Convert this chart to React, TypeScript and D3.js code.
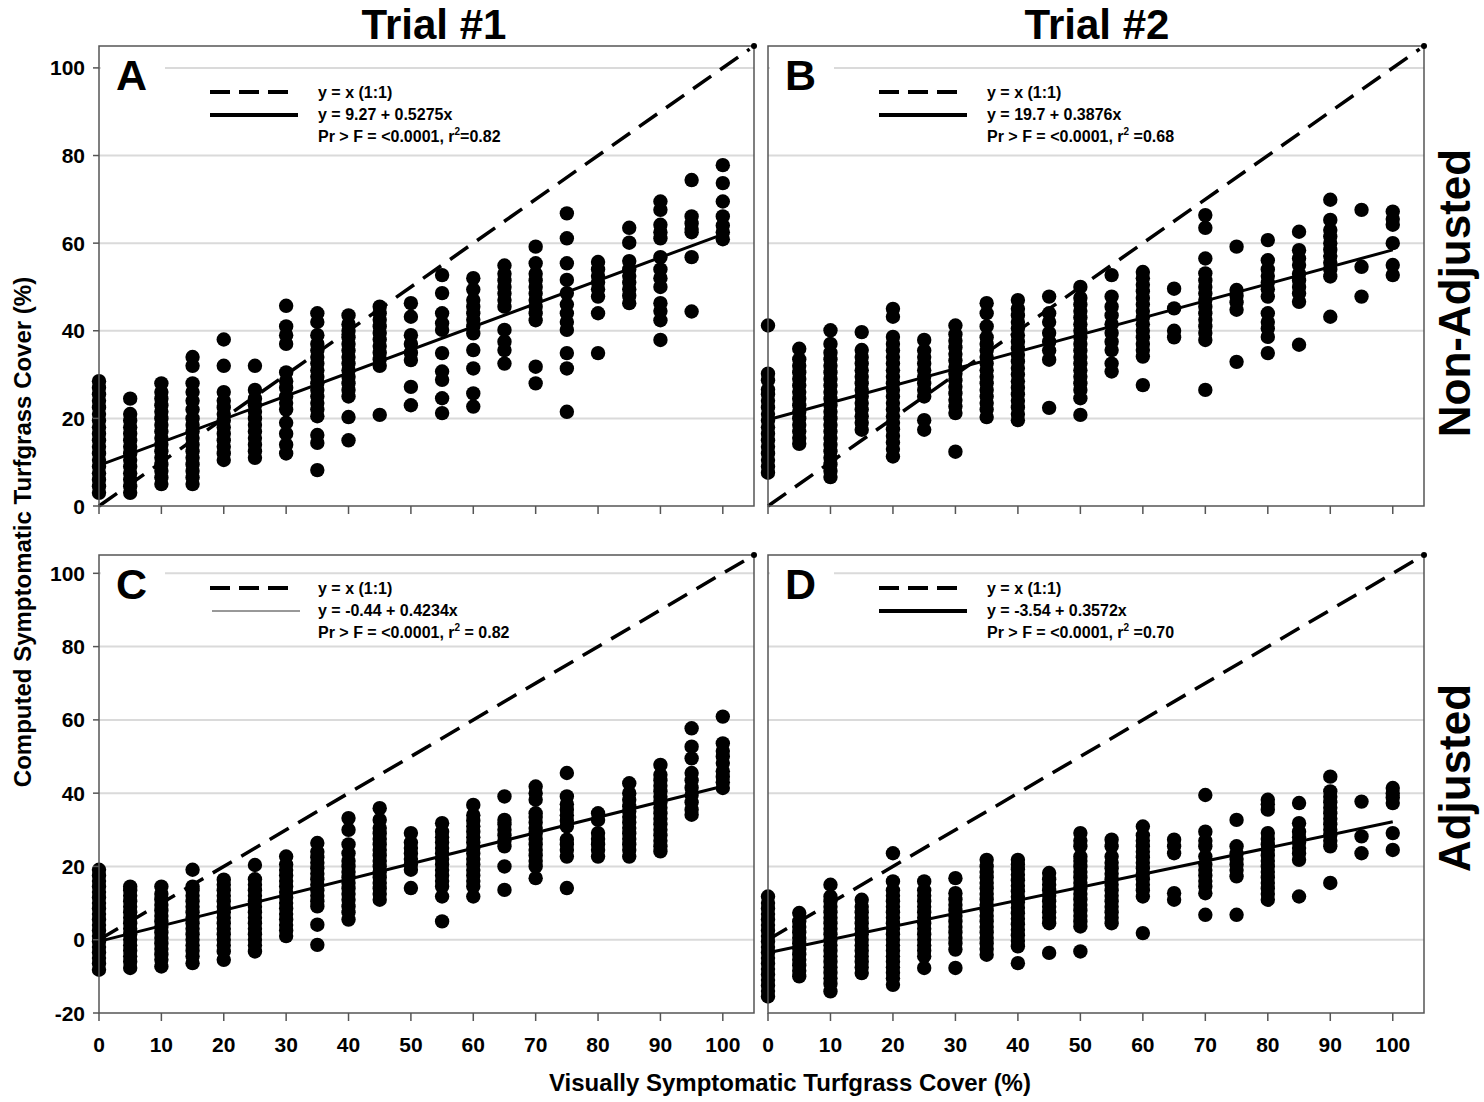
import React from 'react';
import * as d3 from 'd3';

type Column = [number, number[]];

const xTicks = [0, 10, 20, 30, 40, 50, 60, 70, 80, 90, 100];
const yTicksNonAdjusted = [0, 20, 40, 60, 80, 100];
const yTicksAdjusted = [-20, 0, 20, 40, 60, 80, 100];

// Trial #1, non-adjusted (panel A)
const trial1NonAdjusted: Column[] = [
  [0, [3, 4.5, 6, 7.5, 9, 10.5, 12, 13.5, 15, 16.5, 18, 19.5, 21, 22.5, 24, 25.5, 27, 28.5]],
  [5, [3, 4.5, 6, 7.5, 9, 10.5, 12, 13.5, 15, 16.5, 18, 19.5, 21, 24.5]],
  [10, [5, 6.5, 8, 9.5, 11, 12.5, 14, 15.5, 17, 18.5, 20, 21.5, 23, 24.5, 26, 28]],
  [15, [5, 6.5, 8, 9.5, 11, 12.5, 14, 15.5, 17, 18.5, 20, 22, 24, 26, 28, 32, 34]],
  [20, [10.5, 12, 13.5, 15, 16.5, 18, 19.5, 21, 22.5, 24, 26, 32, 38]],
  [25, [11, 12.5, 14, 15.5, 17, 18.5, 20, 21.5, 23, 24.5, 26.5, 32]],
  [30, [12, 14, 16.5, 19, 22, 23.5, 25, 27, 28.5, 30.5, 37, 39, 41, 45.7]],
  [35, [8.2, 14.4, 16.2, 20.5, 22, 23.5, 25, 26.5, 28, 29.5, 31, 32.5, 34, 35.5, 37, 39, 42, 44]],
  [40, [15, 20.3, 25, 26.5, 28, 29.5, 31, 32.5, 34, 35.5, 37, 38.5, 40, 41.5, 43.5]],
  [45, [20.8, 32, 33.5, 35, 36.5, 38, 39.5, 41, 42.5, 44, 45.5]],
  [50, [23, 27.2, 33.3, 35, 37, 39, 43.2, 46.3]],
  [55, [21.2, 24.6, 28.8, 30.7, 34.9, 40.2, 41.7, 44, 48.6, 52.7]],
  [60, [22.7, 25.7, 31.4, 35.6, 39.4, 41, 42.5, 44, 45.5, 47, 49.4, 52]],
  [65, [32.5, 35.6, 37.5, 40.2, 45.5, 47, 48.5, 50, 51.5, 53, 54.9]],
  [70, [28, 31.8, 42.4, 44, 45.5, 47, 48.5, 50, 51.5, 53, 55.4, 59.2]],
  [75, [21.5, 31.4, 34.9, 40.2, 42, 44, 46, 48.6, 51.6, 55.4, 61.1, 66.8]],
  [80, [34.9, 44, 47.8, 49.5, 51, 52.5, 54, 55.7]],
  [85, [46.3, 48, 49.5, 51, 52.5, 54, 55.9, 60.1, 63.5]],
  [90, [37.9, 42.4, 44.5, 46.3, 50, 52, 54, 56.8, 61.1, 62.5, 64.2, 67.6, 69.5]],
  [95, [44.4, 56.8, 62.5, 63.2, 64.5, 66.1, 74.4]],
  [100, [60.9, 62.5, 64, 66.1, 69.5, 73.7, 77.8]],
];

// Trial #2, non-adjusted (panel B)
const trial2NonAdjusted: Column[] = [
  [0, [7.6, 9, 10.5, 12, 13.5, 15, 16.5, 18, 19.5, 21, 22.5, 24, 25.5, 26.6, 28.7, 30.2, 41.2]],
  [5, [14.2, 15.5, 17, 18.5, 20, 21.5, 23, 24.5, 26, 27.5, 29, 30.5, 32, 33.5, 35.9]],
  [10, [6.6, 8, 9.5, 11, 12.5, 14, 15.5, 17, 18.5, 20, 21.5, 23, 24.5, 26, 27.5, 29, 30.5, 32, 33.5, 35, 37, 40.1]],
  [15, [17.4, 19, 20.5, 22, 23.5, 25, 26.5, 28, 29.5, 31, 32.5, 34, 35.6, 39.7]],
  [20, [11.3, 13, 14.5, 16, 17.5, 19, 20.5, 22, 23.5, 25, 26.5, 28, 29.5, 31, 32.5, 34, 35.5, 37, 38.6, 43.2, 45]],
  [25, [17.4, 19.6, 25, 26.5, 28, 29.5, 31, 32.5, 34, 35.5, 37.9]],
  [30, [12.4, 21.2, 22.7, 24.2, 25.7, 27.2, 28.7, 30.2, 31.7, 33.2, 34.7, 36.2, 37.7, 39.2, 41.2]],
  [35, [20.3, 22, 23.5, 25, 26.5, 28, 29.5, 31, 32.5, 34, 35.5, 37, 38.5, 41, 44, 46.3]],
  [40, [19.6, 21, 22.5, 24, 25.5, 27, 28.5, 30, 31.5, 33, 34.5, 36, 37.5, 39, 40.5, 42, 43.5, 45, 47]],
  [45, [22.4, 33.4, 35.5, 37.5, 39.5, 42, 44, 47.8]],
  [50, [20.8, 24.6, 26.5, 28, 29.5, 31, 32.5, 34, 35.5, 37, 38.5, 40, 41.5, 43, 44.5, 46, 47.5, 50]],
  [55, [30.7, 32.5, 35.6, 37.5, 39.5, 41.5, 43.5, 45.5, 47.8, 52.7]],
  [60, [27.6, 34.1, 35.6, 37, 38.5, 40, 41.5, 43, 44.5, 46, 47.5, 49, 50.5, 52, 53.4]],
  [65, [38.5, 40, 45.1, 49.6]],
  [70, [26.5, 37.9, 39.5, 41, 42.5, 44, 45.5, 47, 48.5, 50, 51.5, 53.1, 56.5, 63.5, 66.4]],
  [75, [32.9, 44.8, 46.5, 48, 49.3, 59.2]],
  [80, [34.9, 38.6, 40.5, 42, 44, 47.8, 49.5, 51, 52.5, 54, 56.1, 60.7]],
  [85, [36.8, 46.6, 48.5, 50, 51.5, 53, 55, 56.5, 58.4, 62.6]],
  [90, [43.2, 52.4, 54, 55.5, 57, 58.5, 60, 61.5, 63, 65.3, 69.9]],
  [95, [47.8, 54.6, 67.6]],
  [100, [52.7, 55, 60, 64.2, 65.5, 67.2]],
];

// Trial #1, adjusted (panel C)
const trial1Adjusted: Column[] = [
  [0, [-8.2, -6.5, -5, -3.5, -2, -0.5, 1, 2.5, 4, 5.5, 7, 8.5, 10, 11.5, 13, 14.5, 16, 17.5, 19.1]],
  [5, [-7.7, -6, -4.5, -3, -1.5, 0, 1.5, 3, 4.5, 6, 7.5, 9, 10.5, 12, 13.5, 14.5]],
  [10, [-7.3, -5.5, -4, -2.5, -1, 0.5, 2, 3.5, 5, 6.5, 8, 9.5, 11, 12.5, 14.5]],
  [15, [-6.4, -4.5, -3, -1.5, 0, 1.5, 3, 4.5, 6, 7.5, 9, 10.5, 12, 13.5, 14.5, 19.1]],
  [20, [-5.5, -3.2, -1.5, 0, 1.5, 3, 4.5, 6, 7.5, 9, 10.5, 12, 13.5, 15, 16.4]],
  [25, [-3.2, -1.5, 0, 1.5, 3, 4.5, 6, 7.5, 9, 10.5, 12, 13.5, 15, 16.5, 20.4]],
  [30, [1, 2.5, 4, 5.5, 7, 8.5, 10, 11.5, 13, 14.5, 16, 17.5, 19, 20.5, 22.7]],
  [35, [-1.4, 4.1, 9.1, 10.5, 12, 13.5, 15, 16.5, 18, 19.5, 21, 22.5, 24, 26.4]],
  [40, [5.5, 7.5, 9.1, 10.9, 12.5, 14, 15.5, 17, 18.5, 20, 21.5, 23.6, 26, 30, 33.2]],
  [45, [10.9, 12.5, 14, 15.5, 17, 18.5, 20, 21.5, 23, 24.5, 26, 27.5, 29, 30.5, 32.7, 35.9]],
  [50, [14.1, 19.1, 20.5, 22, 23.5, 25, 26.5, 29.1]],
  [55, [5, 11.8, 14.5, 16, 17.5, 19, 20.5, 22, 23.5, 25, 26.5, 28, 29.5, 31.8]],
  [60, [11.8, 14.5, 16, 17.5, 19, 20.5, 22, 23.5, 25, 26.5, 28, 29.5, 31, 32.5, 34, 36.8]],
  [65, [13.6, 20, 25.5, 27, 28.5, 30, 31.5, 32.7, 39.1]],
  [70, [16.8, 20, 21.5, 23, 24.5, 26, 27.5, 29, 30.5, 32, 33.5, 34.5, 38.2, 40, 41.8]],
  [75, [14.1, 22.7, 24.5, 26, 27.3, 30.9, 32.5, 34, 35.5, 37, 39.1, 45.5]],
  [80, [22.7, 24.5, 26, 27.5, 29.1, 32.7, 34.5]],
  [85, [22.7, 24.5, 26, 27.5, 29, 30.5, 32, 33.5, 35, 36.4, 38.2, 40, 42.7]],
  [90, [24.1, 25.5, 27, 28.5, 30, 31.5, 33, 34.5, 36, 37.5, 39, 40.5, 42, 43.5, 45, 47.7]],
  [95, [34.1, 35.5, 37.5, 39.5, 41.5, 43.5, 45.5, 49.5, 52.7, 57.7]],
  [100, [41.4, 43, 44.5, 46, 48.2, 50, 51.5, 53.6, 60.9]],
];

// Trial #2, adjusted (panel D)
const trial2Adjusted: Column[] = [
  [0, [-15.5, -14, -12.5, -11, -9.5, -8, -6.5, -5, -3.5, -2, -0.5, 1, 2.5, 4, 5.5, 7, 8.5, 10, 11.8]],
  [5, [-10, -8.5, -7, -5.5, -4, -2.5, -1, 0.5, 2, 3.5, 5, 7.3]],
  [10, [-14.1, -12, -10.5, -9, -7.5, -6, -4.5, -3, -1.5, 0, 1.5, 3, 4.5, 6, 7.5, 9, 10.5, 11.8, 15]],
  [15, [-9.1, -7.5, -6, -4.5, -3, -1.5, 0, 1.5, 3, 4.5, 6, 7.5, 9, 10.9]],
  [20, [-12.3, -10.5, -9, -7.5, -6, -4.5, -3, -1.5, 0, 1.5, 3, 4.5, 6, 7.5, 9, 10.5, 12, 13.5, 15.9, 23.6]],
  [25, [-7.7, -4.5, -3, -1.5, 0, 1.5, 3, 4.5, 6, 7.5, 9, 10.5, 12, 13.5, 15.9]],
  [30, [-7.7, -2.7, -1, 0.5, 2, 3.5, 5, 6.5, 8, 9.5, 11, 12.7, 16.8]],
  [35, [-4.1, -2.5, -1, 0.5, 2, 3.5, 5, 6.5, 8, 9.5, 11, 12.5, 14, 15.5, 17, 18.5, 20, 21.8]],
  [40, [-6.4, -1.8, -0.3, 1.2, 2.7, 4.2, 5.7, 7.2, 8.7, 10.2, 11.7, 13.2, 14.7, 16.2, 17.7, 19.2, 20.5, 21.8]],
  [45, [-3.6, 4.5, 6, 7.5, 9, 10.5, 12, 13.5, 15, 16.5, 18.2]],
  [50, [-3.2, 3.6, 5, 6.5, 8, 9.5, 11, 12.5, 14, 15.5, 17, 18.5, 20, 21.5, 22.7, 25.5, 27, 29.1]],
  [55, [4.5, 6, 7.5, 9, 10.5, 12, 13.5, 15, 16.5, 18, 19.5, 21, 22.7, 25.5, 27.3]],
  [60, [1.8, 11.8, 13.5, 15, 16.5, 18, 19.5, 21, 22.5, 24, 25.5, 27, 28.5, 30.9]],
  [65, [10.9, 12.7, 23.6, 25.5, 27.3]],
  [70, [6.8, 12.7, 14.5, 16, 17.5, 19, 20.5, 22.7, 25.5, 27, 29.5, 39.5]],
  [75, [6.8, 17.3, 19, 20.5, 22, 23.5, 25.5, 32.7]],
  [80, [10.9, 12.5, 14, 15.5, 17, 18.5, 20, 21.5, 23, 24.5, 26, 27.5, 29.1, 35.5, 37, 38.2]],
  [85, [11.8, 21.8, 23.5, 25, 26.5, 28, 29.5, 31.8, 37.3]],
  [90, [15.5, 25.5, 27, 28.5, 30, 31.5, 33, 34.5, 36, 37.5, 39, 40.5, 44.5]],
  [95, [23.6, 28.2, 37.7]],
  [100, [24.5, 29.1, 37.3, 38.8, 40, 41.4]],
];

const FONT = "Arial, 'Liberation Sans', sans-serif";

const panels = [
  {
    letter: 'A', data: trial1NonAdjusted, left: 99, right: 754, top: 46, bottom: 506,
    yMin: 0, yTicks: yTicksNonAdjusted, intercept: 9.27, slope: 0.5275,
    eq: 'y = 9.27 + 0.5275x', stat: ['Pr > F = <0.0001, r', '=0.82'], legendY: 92,
    thinLegend: false, yLabels: true, xLabels: false,
  },
  {
    letter: 'B', data: trial2NonAdjusted, left: 768, right: 1424, top: 46, bottom: 506,
    yMin: 0, yTicks: yTicksNonAdjusted, intercept: 19.7, slope: 0.3876,
    eq: 'y = 19.7 + 0.3876x', stat: ['Pr > F = <0.0001, r', ' =0.68'], legendY: 92,
    thinLegend: false, yLabels: false, xLabels: false,
  },
  {
    letter: 'C', data: trial1Adjusted, left: 99, right: 754, top: 555, bottom: 1013,
    yMin: -20, yTicks: yTicksAdjusted, intercept: -0.44, slope: 0.4234,
    eq: 'y = -0.44 + 0.4234x', stat: ['Pr > F = <0.0001, r', ' = 0.82'], legendY: 588,
    thinLegend: true, yLabels: true, xLabels: true,
  },
  {
    letter: 'D', data: trial2Adjusted, left: 768, right: 1424, top: 555, bottom: 1013,
    yMin: -20, yTicks: yTicksAdjusted, intercept: -3.54, slope: 0.3572,
    eq: 'y = -3.54 + 0.3572x', stat: ['Pr > F = <0.0001, r', ' =0.70'], legendY: 588,
    thinLegend: false, yLabels: false, xLabels: true,
  },
];

type PanelSpec = typeof panels[number];

const Panel = ({ p }: { p: PanelSpec }) => {
  const x = d3.scaleLinear().domain([0, 105]).range([p.left, p.right]);
  const y = d3.scaleLinear().domain([p.yMin, 105]).range([p.bottom, p.top]);
  const fitLine = d3.line<number>().x(d => x(d)).y(d => y(p.intercept + p.slope * d));
  const oneToOne = d3.line<number>().x(d => x(d)).y(d => y(d));
  const lx = p.left + 111;
  const tx = p.left + 219;
  return (
    <g>
      {p.yTicks.filter(t => t > p.yMin).map(t => (
        <line key={'g' + t} x1={p.left} x2={p.right} y1={y(t)} y2={y(t)} stroke="#dadada" strokeWidth={2} />
      ))}
      <rect x={p.left + 2} y={p.top + 8} width={64} height={42} fill="#fff" />
      {p.data.map(([xv, ys]) => ys.map((yv, i) => (
        <circle key={xv + '-' + i} cx={x(xv)} cy={y(yv)} r={7.2} fill="#000" />
      )))}
      <path d={oneToOne([0, 104.3]) || ''} stroke="#000" strokeWidth={3.5} strokeDasharray="22 11" fill="none" />
      <path d={fitLine([0, 100]) || ''} stroke="#000" strokeWidth={3} fill="none" />
      <rect x={p.left} y={p.top} width={p.right - p.left} height={p.bottom - p.top} fill="none" stroke="#555" strokeWidth={1.5} />
      <circle cx={p.right} cy={p.top} r={3} fill="#000" />
      {xTicks.map(t => (
        <line key={'xt' + t} x1={x(t)} x2={x(t)} y1={p.bottom} y2={p.bottom + 8} stroke="#555" strokeWidth={1.5} />
      ))}
      {p.yLabels && p.yTicks.map(t => (
        <g key={'yt' + t}>
          <line x1={p.left - 6} x2={p.left} y1={y(t)} y2={y(t)} stroke="#555" strokeWidth={1.5} />
          <text x={p.left - 14} y={y(t)} dy="0.36em" textAnchor="end" fontSize={21} fontWeight="bold">{t}</text>
        </g>
      ))}
      {p.xLabels && xTicks.map(t => (
        <text key={'xl' + t} x={x(t)} y={p.bottom + 31} dy="0.36em" textAnchor="middle" fontSize={21} fontWeight="bold">{t}</text>
      ))}
      <text x={p.left + 17} y={p.top + 29} dy="0.36em" fontSize={43} fontWeight="bold">{p.letter}</text>
      <line x1={lx} x2={lx + 81} y1={p.legendY} y2={p.legendY} stroke="#000" strokeWidth={4} strokeDasharray="20 9" />
      {p.thinLegend
        ? <line x1={lx + 2} x2={lx + 90} y1={p.legendY + 23} y2={p.legendY + 23} stroke="#333" strokeWidth={1} />
        : <line x1={lx} x2={lx + 88} y1={p.legendY + 23} y2={p.legendY + 23} stroke="#000" strokeWidth={4} />}
      <g fontSize={16} fontWeight="bold">
        <text x={tx} y={p.legendY} dy="0.35em">y = x (1:1)</text>
        <text x={tx} y={p.legendY + 22} dy="0.35em">{p.eq}</text>
        <text x={tx} y={p.legendY + 44} dy="0.35em">
          {p.stat[0]}<tspan fontSize={10} dy={-7}>2</tspan><tspan dy={7}>{p.stat[1]}</tspan>
        </text>
      </g>
    </g>
  );
};

export default function App() {
  return (
    <svg width={1484} height={1102} style={{ position: 'absolute', left: 0, top: 0, background: '#fff' }} fontFamily={FONT}>
      <rect width={1484} height={1102} fill="#fff" />
      {panels.map(p => <Panel key={p.letter} p={p} />)}
      <text x={434} y={24} dy="0.36em" textAnchor="middle" fontSize={42} fontWeight="bold">Trial #1</text>
      <text x={1097} y={24} dy="0.36em" textAnchor="middle" fontSize={42} fontWeight="bold">Trial #2</text>
      <text transform="translate(1454,293) rotate(-90)" dy="0.36em" textAnchor="middle" fontSize={44} fontWeight="bold">Non-Adjusted</text>
      <text transform="translate(1454,778) rotate(-90)" dy="0.36em" textAnchor="middle" fontSize={44} fontWeight="bold">Adjusted</text>
      <text transform="translate(22,532) rotate(-90)" dy="0.36em" textAnchor="middle" fontSize={24} fontWeight="bold">Computed Symptomatic Turfgrass Cover (%)</text>
      <text x={790} y={1082} dy="0.36em" textAnchor="middle" fontSize={24} fontWeight="bold">Visually Symptomatic Turfgrass Cover (%)</text>
    </svg>
  );
}
